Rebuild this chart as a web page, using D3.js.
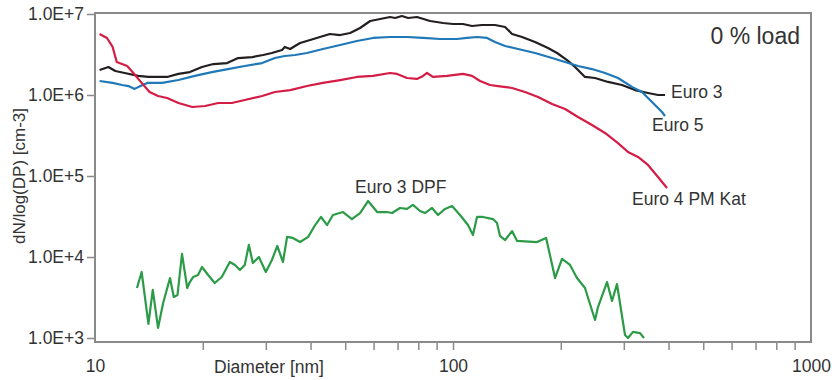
<!DOCTYPE html>
<head>
    <meta charset="utf-8">
    <title>Particle size distribution - 0 % load</title>
    <style>
        body { margin: 0; background: #fff; }
        svg { display: block; font-family: "Liberation Sans", Arial, sans-serif; }
        .axis text { fill: #333; font-size: 17.5px; }
        .axis line { stroke: #8a8a8a; stroke-width: 1.5; }
        .axis path { display: none; }
        .series { fill: none; stroke-width: 2.2; stroke-linejoin: round; }
        .label { fill: #333; font-size: 17.5px; }
    </style>
</head>
<body>

<svg width="832" height="380"></svg>

<script src="https://d3js.org/d3.v7.min.js"></script>

<script>

// Euro 3
var euro3D = [10.3, 10.9, 11.4, 12.1, 13.2, 14.1, 15.9, 17.1, 18.4, 19.9, 21.4, 23.4, 25.1, 27.5, 29.5,
    31.2, 33.3, 33.9, 35.1, 36.2, 37.4, 39.9, 42.5, 45.3, 48.4, 51.6, 55.0, 58.7, 62.6, 66.7,
    68.9, 72.0, 74.9, 79.3, 86.3, 93.8, 100, 106.6, 113, 120.5, 131, 139.8, 146.2, 155.9, 169.5,
    184.2, 195.3, 208.2, 219.2, 233.7, 249.3, 271, 296.5, 322.4, 350.5, 373.8, 391];
var euro3N = [2.04e6, 2.22e6, 1.98e6, 1.87e6, 1.72e6, 1.67e6, 1.67e6, 1.82e6, 1.92e6, 2.22e6, 2.41e6, 2.48e6, 2.86e6, 2.94e6, 3.12e6,
    3.30e6, 3.59e6, 3.92e6, 3.70e6, 4.03e6, 4.39e6, 4.78e6, 5.20e6, 5.66e6, 5.50e6, 5.82e6, 6.72e6, 8.20e6, 8.67e6, 9.18e6,
    8.93e6, 9.44e6, 8.93e6, 9.18e6, 8.20e6, 7.74e6, 7.53e6, 7.53e6, 7.11e6, 7.31e6, 7.31e6, 6.91e6, 5.66e6, 5.20e6, 4.51e6,
    3.80e6, 3.30e6, 2.70e6, 2.22e6, 1.67e6, 1.62e6, 1.45e6, 1.33e6, 1.15e6, 1.06e6, 1.00e6, 1.00e6];

// Euro 5
var euro5D = [10.3, 11.2, 11.9, 12.4, 12.9, 13.4, 14.0, 15.4, 17.1, 19.0, 21.2, 23.5, 26.2, 29.3, 31.8,
    33.9, 36.2, 39.1, 43.3, 48.4, 53.9, 59.8, 66.7, 74.4, 82.5, 92.0, 102.6, 109.4, 116.7, 124.5,
    131, 139.8, 152, 169.5, 189.1, 205.6, 223.4, 244.5, 265.8, 289, 316.2, 337.2, 359.7, 383.5, 391];
var euro5N = [1.49e6, 1.41e6, 1.33e6, 1.29e6, 1.19e6, 1.29e6, 1.41e6, 1.41e6, 1.53e6, 1.72e6, 1.92e6, 2.09e6, 2.28e6, 2.48e6, 2.86e6,
    3.03e6, 3.12e6, 3.30e6, 3.70e6, 4.14e6, 4.64e6, 5.06e6, 5.20e6, 5.20e6, 5.06e6, 4.91e6, 4.91e6, 5.06e6, 5.20e6, 5.06e6,
    4.51e6, 4.03e6, 3.70e6, 3.30e6, 2.86e6, 2.55e6, 2.28e6, 2.09e6, 1.87e6, 1.62e6, 1.26e6, 1.09e6, 8.2e5, 6.17e5, 5.51e5];

// Euro 4 PM Kat
var euro4D = [10.3, 10.8, 11.2, 11.5, 11.9, 12.3, 12.8, 13.5, 14.2, 15.0, 15.9, 17.1, 18.7, 20.3, 22.1,
    24.1, 26.2, 29.3, 31.8, 35.1, 39.1, 43.3, 48.4, 53.9, 59.8, 66.7, 69.8, 74.4, 79.3, 82.5,
    84.6, 87.9, 96.2, 106.6, 113, 119, 126.9, 133.6, 146.2, 158.9, 172.8, 189.1, 205.6, 223.4, 244.5,
    265.8, 289, 308.2, 328.7, 350.5, 373.8, 396.1];
var euro4N = [5.66e6, 5.06e6, 3.92e6, 2.55e6, 2.41e6, 2.28e6, 1.87e6, 1.41e6, 1.09e6, 9.72e5, 9.18e5, 7.97e5, 7.11e5, 7.31e5, 7.97e5,
    7.97e5, 8.67e5, 9.72e5, 1.09e6, 1.15e6, 1.29e6, 1.41e6, 1.53e6, 1.67e6, 1.72e6, 1.87e6, 1.82e6, 1.62e6, 1.58e6, 1.72e6,
    1.87e6, 1.67e6, 1.72e6, 1.82e6, 1.72e6, 1.49e6, 1.33e6, 1.29e6, 1.22e6, 1.09e6, 9.45e5, 7.74e5, 6.72e5, 5.35e5, 4.26e5,
    3.40e5, 2.55e5, 1.98e5, 1.72e5, 1.37e5, 9.72e4, 7.11e4];

// Euro 3 DPF
var dpfD = [13.1, 13.5, 14.1, 14.5, 15.0, 15.5, 16.2, 16.6, 17.0, 17.5, 18.1, 18.4, 18.8, 19.4, 19.9,
    20.7, 21.6, 22.6, 23.8, 24.6, 25.4, 26.2, 26.9, 27.6, 28.7, 30.0, 31.2, 32.3, 33.5, 34.4,
    35.7, 37.4, 39.4, 41.2, 42.8, 44.5, 46.2, 49.3, 52.2, 55.0, 57.9, 61.4, 65.4, 67.6, 71.1,
    74.4, 77.3, 80.9, 83.5, 87.4, 90.8, 95.0, 99.4, 104.6, 110.1, 113.7, 116.7, 121.3, 129.3, 132.7,
    135.3, 139.8, 146.2, 151, 171.7, 182, 192.8, 201.6, 212.3, 222, 233.7, 249.3, 254.1, 269.3, 278.1,
    287.1, 302.3, 308.2, 318.3, 332.9, 341.6];
var dpfN = [4.14e3, 6.53e3, 1.49e3, 3.92e3, 1.33e3, 2.70e3, 5.50e3, 3.21e3, 3.40e3, 1.09e4, 4.14e3, 4.91e3, 5.66e3, 5.99e3, 7.53e3,
    5.99e3, 4.78e3, 5.66e3, 8.67e3, 7.97e3, 6.91e3, 7.97e3, 1.41e4, 8.43e3, 1.00e4, 6.53e3, 9.18e3, 1.37e4, 8.67e3, 1.77e4,
    1.72e4, 1.53e4, 1.77e4, 2.48e4, 3.12e4, 2.48e4, 3.30e4, 3.59e4, 2.94e4, 3.49e4, 4.91e4, 3.59e4, 3.59e4, 3.49e4, 4.03e4,
    3.92e4, 4.39e4, 3.70e4, 3.49e4, 4.03e4, 3.30e4, 3.92e4, 4.26e4, 3.30e4, 2.48e4, 1.87e4, 3.12e4, 3.12e4, 2.94e4, 2.63e4,
    1.82e4, 1.62e4, 2.09e4, 1.58e4, 1.53e4, 1.72e4, 5.50e3, 9.45e3, 7.97e3, 5.50e3, 4.14e3, 1.67e3, 2.41e3, 4.91e3, 2.86e3,
    4.64e3, 1.09e3, 1.00e3, 1.19e3, 1.15e3, 1.00e3];

var yTicks = [1e3, 1e4, 1e5, 1e6, 1e7];
var xLabelTicks = [10, 100, 1000];
var xMinorTicks = [20, 30, 40, 50, 60, 70, 80, 90, 100, 200, 300, 400, 500, 600, 700, 800, 900];

var series = [
    { name: 'Euro 3', d: euro3D, n: euro3N, color: '#231f20' },
    { name: 'Euro 5', d: euro5D, n: euro5N, color: '#1f78b8' },
    { name: 'Euro 4 PM Kat', d: euro4D, n: euro4N, color: '#d41c45' },
    { name: 'Euro 3 DPF', d: dpfD, n: dpfN, color: '#2b9b47' }
];

var svg = d3.select('svg');

var x = d3.scaleLog()
    .domain([10, 1000])
    .range([95, 811]);

var y = d3.scaleLog()
    .domain([1e3, 1e7])
    .range([338, 14]);

// frame
svg.append('rect')
    .attr('x', 95)
    .attr('y', 13)
    .attr('width', 716)
    .attr('height', 329)
    .attr('fill', 'none')
    .attr('stroke', '#8a8a8a')
    .attr('stroke-width', 2);

// y axis
svg.append('g')
    .attr('class', 'axis')
    .attr('transform', 'translate(94, 0)')
    .call(d3.axisLeft(y)
        .tickValues(yTicks)
        .tickSize(7)
        .tickPadding(3)
        .tickFormat(d => d.toExponential(1).replace('e', 'E')));

// x axis, small ticks
svg.append('g')
    .attr('class', 'axis')
    .attr('transform', 'translate(0, 343)')
    .call(d3.axisBottom(x)
        .tickValues(xMinorTicks)
        .tickSize(7)
        .tickFormat(''));

// x axis, labels
svg.append('g')
    .attr('class', 'axis')
    .attr('transform', 'translate(0, 342)')
    .call(d3.axisBottom(x)
        .tickValues(xLabelTicks)
        .tickSize(0)
        .tickPadding(18)
        .tickFormat(d3.format('d')));

svg.append('text')
    .attr('class', 'label')
    .attr('x', 269)
    .attr('y', 373)
    .attr('text-anchor', 'middle')
    .text('Diameter [nm]');

svg.append('text')
    .attr('class', 'label')
    .attr('transform', 'translate(25, 176) rotate(-90)')
    .attr('text-anchor', 'middle')
    .style('font-size', '17px')
    .text('dN/log(DP) [cm-3]');

var line = d3.line()
    .x(d => x(d[0]))
    .y(d => y(d[1]));

svg.selectAll('.series')
    .data(series)
    .enter().append('path')
        .attr('class', 'series')
        .attr('stroke', d => d.color)
        .attr('d', d => line(d3.zip(d.d, d.n)));

// line labels
var labels = [
    { text: 'Euro 3', x: 671, y: 98 },
    { text: 'Euro 5', x: 652, y: 131 },
    { text: 'Euro 4 PM Kat', x: 632, y: 205 },
    { text: 'Euro 3 DPF', x: 355, y: 193 }
];

svg.selectAll('.serieslabel')
    .data(labels)
    .enter().append('text')
        .attr('class', 'label')
        .attr('x', d => d.x)
        .attr('y', d => d.y)
        .text(d => d.text);

svg.append('text')
    .attr('class', 'label')
    .attr('x', 800)
    .attr('y', 44)
    .attr('text-anchor', 'end')
    .style('font-size', '23px')
    .text('0 % load');

</script>

</body>
